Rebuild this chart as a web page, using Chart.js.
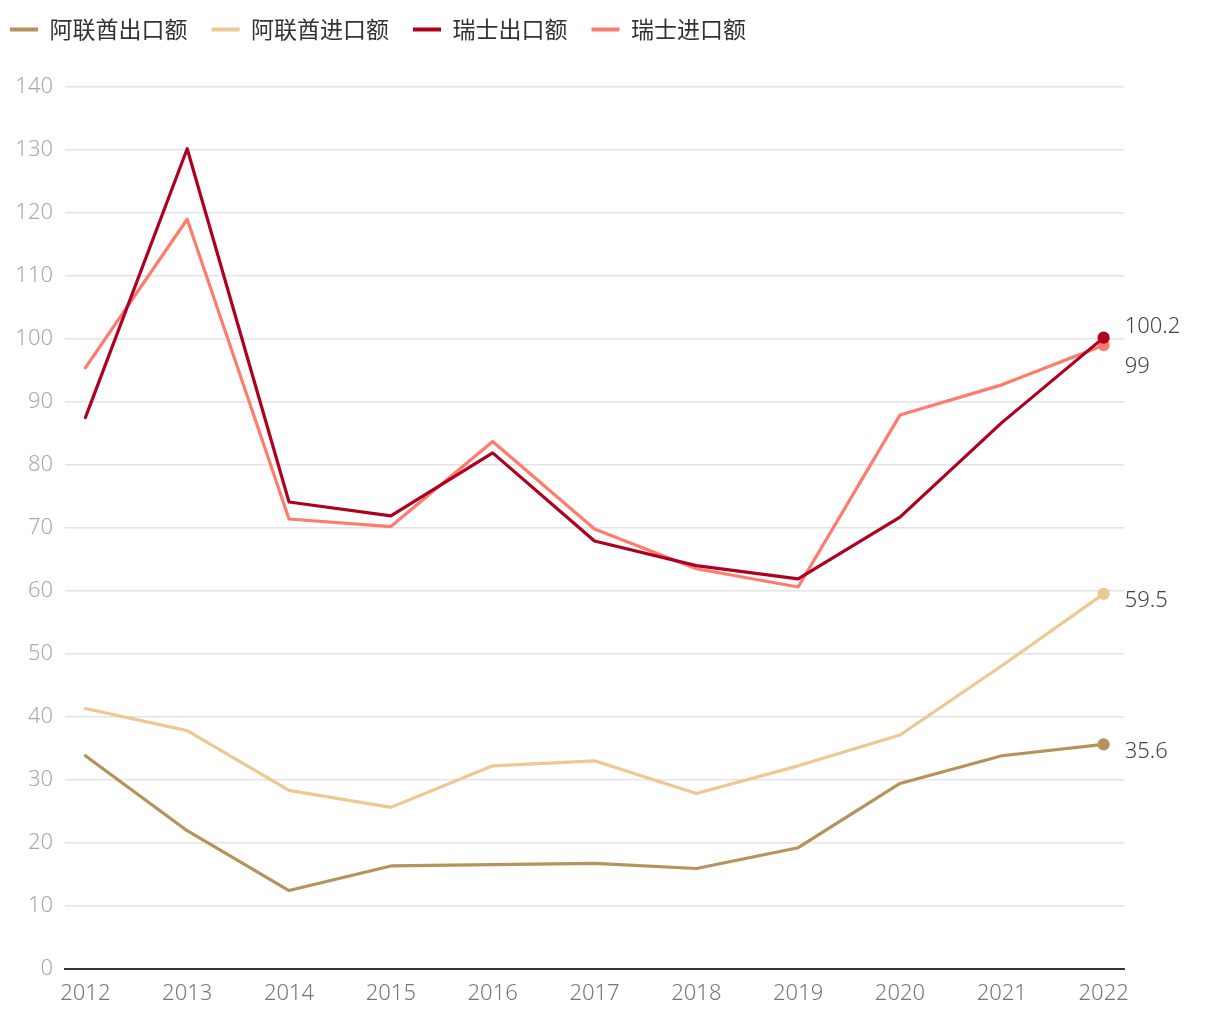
<!DOCTYPE html>
<html>
<head>
<meta charset="utf-8">
<script src="https://cdn.jsdelivr.net/npm/chart.js@4"></script>
<style>
  body { margin: 0; background: #fff; }
  #wrap { width: 1220px; height: 1020px; }
</style>
</head>
<body>
<div id="wrap"><canvas id="trade" width="1220" height="1020"></canvas></div>
<script>
const years = [2012, 2013, 2014, 2015, 2016, 2017, 2018, 2019, 2020, 2021, 2022];
const uaeExport = [33.8, 21.9, 12.4, 16.3, 16.5, 16.7, 15.9, 19.2, 29.4, 33.8, 35.6];
const uaeImport = [41.3, 37.8, 28.3, 25.6, 32.2, 33.0, 27.8, 32.2, 37.1, 48.1, 59.5];
const swissExport = [87.5, 130.2, 74.1, 71.9, 81.9, 67.9, 64.0, 61.9, 71.7, 86.7, 100.2];
const swissImport = [95.4, 119.0, 71.4, 70.2, 83.7, 69.8, 63.5, 60.6, 87.9, 92.7, 99];
const seriesNames = ['阿联酋出口额', '阿联酋进口额', '瑞士出口额', '瑞士进口额'];
const seriesColors = ['#b5935a', '#ecc990', '#b0001f', '#ff7b6e'];

const numFont = '"Noto Sans", "Noto Sans CJK SC", sans-serif';
const cjkFont = '"Noto Sans CJK SC", "Noto Sans", sans-serif';

function makeSet(i, values) {
  return {
    label: seriesNames[i],
    data: values.map((v, k) => ({ x: years[k], y: v })),
    borderColor: seriesColors[i],
    backgroundColor: seriesColors[i],
    borderWidth: 3.2,
    borderCapStyle: 'round',
    borderJoinStyle: 'round',
    tension: 0,
    pointRadius: c => c.dataIndex === years.length - 1 ? 4.5 : 0,
    pointHoverRadius: 0,
  };
}

// value labels next to the last point of each line
const endLabels = {
  id: 'endLabels',
  afterDatasetsDraw(chart) {
    const ctx = chart.ctx;
    const xs = chart.scales.x, ys = chart.scales.y;
    ctx.save();
    ctx.font = '300 22px ' + numFont;
    ctx.fillStyle = '#444';
    ctx.textBaseline = 'middle';
    const offs = [7, 7, -11, 22];
    chart.data.datasets.forEach((ds, i) => {
      const p = ds.data[ds.data.length - 1];
      ctx.fillText(String(p.y), xs.getPixelForValue(p.x) + 21, ys.getPixelForValue(p.y) + offs[i]);
    });
    ctx.restore();
  }
};

// legend: taller box so the plot starts lower, nudged to the left edge
const legendFit = {
  id: 'legendFit',
  beforeInit(chart) {
    const fit = chart.legend.fit;
    chart.legend.fit = function () {
      fit.call(this);
      this.height = 87;
    };
  },
  afterLayout(chart) {
    chart.legend.left -= 14;
    chart.legend.top -= 6;
  }
};

new Chart(document.getElementById('trade').getContext('2d'), {
  type: 'line',
  data: {
    datasets: [
      makeSet(0, uaeExport),
      makeSet(1, uaeImport),
      makeSet(2, swissExport),
      makeSet(3, swissImport),
    ]
  },
  options: {
    responsive: false,
    animation: false,
    layout: { padding: { left: 0, right: 96, top: 0, bottom: 1 } },
    plugins: {
      legend: {
        align: 'start',
        labels: {
          usePointStyle: true,
          pointStyle: 'line',
          pointStyleWidth: 28,
          boxHeight: 4,
          padding: 24,
          color: '#333',
          font: { family: cjkFont, size: 23 },
          generateLabels: chart => Chart.defaults.plugins.legend.labels.generateLabels(chart)
            .map(item => Object.assign(item, { lineWidth: 4 })),
        }
      },
      tooltip: { enabled: false }
    },
    scales: {
      x: {
        type: 'linear',
        min: 2011.8,
        max: 2022.2,
        ticks: {
          stepSize: 1,
          includeBounds: false,
          color: '#777',
          font: { family: numFont, size: 22, weight: 300 },
          callback: v => String(v),
          maxRotation: 0,
          padding: 12,
        },
        grid: { display: false, drawTicks: false },
        border: { color: '#333', width: 2 },
      },
      y: {
        min: 0,
        max: 140,
        afterFit: s => { s.width = 65; },
        ticks: {
          stepSize: 10,
          color: '#aaa',
          font: { family: numFont, size: 22, weight: 300 },
          padding: 12,
        },
        grid: { color: '#e4e4e4', lineWidth: 1.5, drawTicks: false },
        border: { display: false },
      }
    }
  },
  plugins: [endLabels, legendFit]
});
</script>
</body>
</html>
